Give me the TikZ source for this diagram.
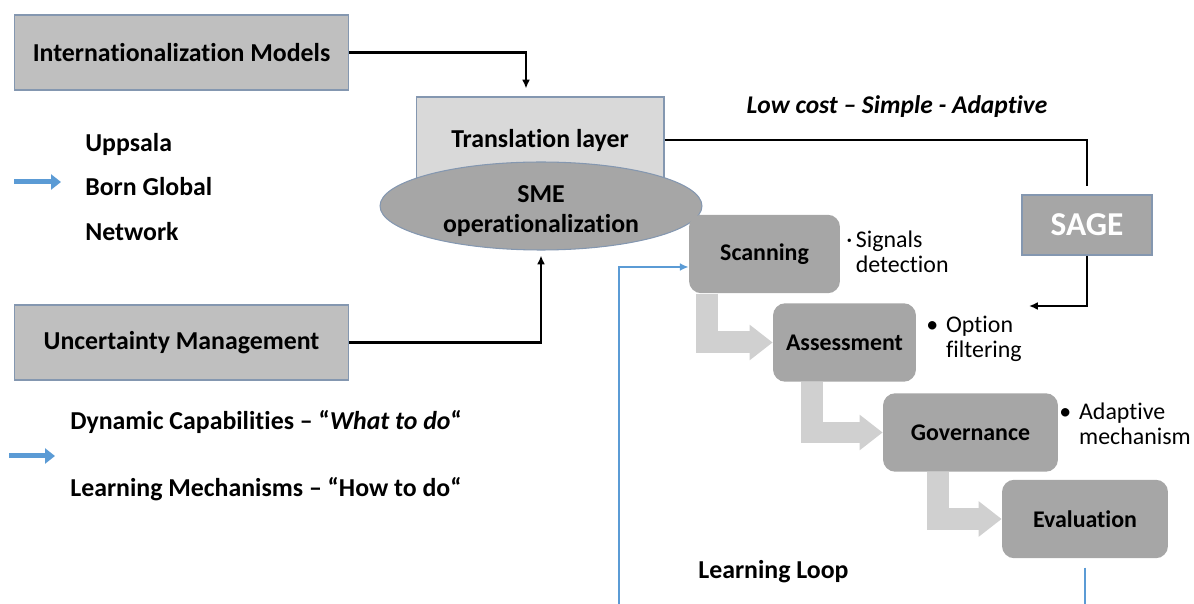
\documentclass[tikz,border=0pt]{standalone}
\usepackage{fontspec}
\setmainfont{Carlito}[Ligatures={TeX,NoCommon}]
\usetikzlibrary{arrows.meta,shapes.geometric}
\definecolor{boxgray}{HTML}{BFBFBF}
\definecolor{layergray}{HTML}{D9D9D9}
\definecolor{stepgray}{HTML}{A6A6A6}
\definecolor{flowgray}{HTML}{D0D0D0}
\definecolor{edgeblue}{HTML}{8497B0}
\definecolor{loopblue}{HTML}{5B9BD5}

\begin{document}
\begin{tikzpicture}[
    x=0.02cm, y=-0.02cm,
    topbox/.style={
      draw=edgeblue, line width=0.6pt, fill=#1,
      font=\fontsize{14.7}{17}\selectfont\bfseries, inner sep=2pt,
    },
    stepbox/.style={
      fill=stepgray, rounded corners=7pt, minimum height=1.57cm,
      font=\fontsize{13.6}{15}\selectfont\bfseries,
    },
    note/.style={font=\fontsize{13.6}{14.3}\selectfont, anchor=west, inner sep=0pt},
    lbl/.style={font=\fontsize{14.7}{#1}\selectfont\bfseries, anchor=west, align=left, inner sep=0pt},
    conn/.style={-{Latex[length=5pt,width=4.5pt]}, line width=1.2pt, black},
    link/.style={line width=1.2pt, black},
    stepflow/.style={-{Triangle[length=0.46cm,width=0.68cm]}, line width=0.44cm, flowgray, line join=miter},
    looparr/.style={-{Latex[length=5pt,width=4.5pt]}, line width=1.2pt, loopblue},
    hint/.style={-{Triangle[length=0.2cm,width=0.3cm]}, line width=0.1cm, loopblue},
  ]
  \useasboundingbox (0,0) rectangle (1194,604);

  % =================== LEFT: models and management ===================
  \node[topbox=boxgray, minimum width=6.7cm, minimum height=1.5cm] (IM) at (181.5,52.5) {Internationalization Models};
  \node[topbox=boxgray, minimum width=6.7cm, minimum height=1.5cm] (UM) at (181.5,342.5) {Uncertainty Management};

  \node[lbl=25.2] (models) at (85,187) {Uppsala\\Born Global\\Network};
  \node[lbl=38] (caps) at (70,456) {Dynamic Capabilities – “\textit{What to do}“\\Learning Mechanisms – “How to do“};

  \draw[hint] ([xshift=-1.42cm,yshift=0.1cm]models.west) -- ([xshift=-0.48cm,yshift=0.1cm]models.west);
  \draw[hint] ([xshift=-1.22cm]caps.west) -- ([xshift=-0.3cm]caps.west);

  % =================== CENTRE: translation layer ===================
  \node[topbox=layergray, minimum width=4.96cm, minimum height=1.72cm] (TL) at (540,140) {Translation layer};
  \node[topbox=stepgray, ellipse, inner sep=0pt, minimum width=6.44cm, minimum height=1.76cm,
        align=center, font=\fontsize{14.7}{17}\selectfont\bfseries] (SME) at (541,206) {\rule{0pt}{15pt}SME\\operationalization};

  \draw[conn] (IM.east) -| ([xshift=-0.28cm,yshift=0.16cm]TL.north);
  \draw[conn] (UM.east) -| ([yshift=-0.1cm]SME.south);

  % =================== RIGHT: SAGE ===================
  \node[font=\fontsize{14.5}{17}\selectfont\bfseries\itshape] (motto) at (897,107) {Low cost – Simple - Adaptive};
  \node[topbox=stepgray, minimum width=2.6cm, minimum height=1.2cm,
        font=\fontsize{19}{22}\selectfont\bfseries, text=white] (SAGE) at (1087,225) {SAGE};

  \draw[link] (TL.east) -| ([yshift=0.16cm]SAGE.north);
  \coordinate (sagein) at (1029,306);
  \draw[conn] (SAGE.south) |- (sagein);

  % Steps -- staircase
  \node[stepbox, minimum width=3.02cm] (Scan) at (764.5,254) {Scanning};
  \node[stepbox, minimum width=2.86cm] (Assess) at (844.5,342.5) {Assessment};
  \node[stepbox, minimum width=3.5cm] (Gov) at (970.5,432.5) {Governance};
  \node[stepbox, minimum width=3.32cm] (Eval) at (1085,519) {Evaluation};

  \draw[stepflow] ([xshift=0.37cm]Scan.south west) |- (Assess.west);
  \draw[stepflow] ([xshift=0.78cm]Assess.south west) |- (Gov.west);
  \draw[stepflow] ([xshift=1.1cm]Gov.south west) |- (Eval.west);

  % Bullets
  \node[note] (sig) at (846,255) {\begin{tabular}{@{}l@{\hspace{2pt}}l@{}}·&Signals\\&detection\end{tabular}};
  \node[note] (opt) at (926,340) {\begin{tabular}{@{}l@{\hspace{4.5pt}}l@{}}•&Option\\&filtering\end{tabular}};
  \node[note] (ada) at (1059,427) {\begin{tabular}{@{}l@{\hspace{4.5pt}}l@{}}•&Adaptive\\&mechanism\end{tabular}};

  % Learning loop
  \node[lbl=17] (loop) at (698,572) {Learning Loop};
  \coordinate (loopcorner) at (619,612);
  \draw[looparr] ([yshift=-0.18cm]Eval.south) |- (loopcorner) |- ([yshift=-0.26cm]Scan.west);

\end{tikzpicture}
\end{document}
